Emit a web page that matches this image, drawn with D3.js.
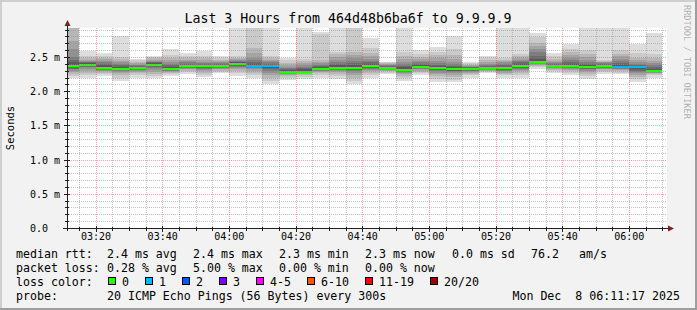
<!DOCTYPE html>
<html>
<head>
    <meta charset="UTF-8">
    <title>smokeping</title>
    <style>
        body { margin: 0; background: #f2f2f2; }
        text { font-family: "DejaVu Sans Mono", monospace; fill: #000; }
    </style>
</head>
<body>
<div id="chart"></div>

<script src="https://cdn.jsdelivr.net/npm/d3@7"></script>
<script>
    // ---- data ----
    var startTime = "03:11:27", endTime = "06:11:27";

    // end of each 5 minute step (first one is cut by the graph start)
    var intervalEnds = ["03:15","03:20","03:25","03:30","03:35","03:40","03:45","03:50","03:55","04:00",
                        "04:05","04:10","04:15","04:20","04:25","04:30","04:35","04:40","04:45","04:50",
                        "04:55","05:00","05:05","05:10","05:15","05:20","05:25","05:30","05:35","05:40",
                        "05:45","05:50","05:55","06:00","06:05","06:10"];

    // median rtt (ms)
    var medians = [2.37,2.39,2.34,2.325,2.34,2.39,2.325,2.37,2.37,2.37,
                   2.40,2.37,2.37,2.285,2.285,2.33,2.34,2.34,2.37,2.34,
                   2.315,2.36,2.34,2.32,2.32,2.34,2.34,2.37,2.43,2.375,
                   2.375,2.36,2.37,2.35,2.35,2.30];

    // lost pings (of 20)
    var lossCounts = [0,0,0,0,0,0,0,0,0,0, 0,1,1,0,0,0,0,0,0,0, 0,0,0,0,0,0,0,0,0,0, 0,0,0,1,1,0];

    // 20 sorted ping times per step (ms)
    var pings = [
        [2.20,2.22,2.25,2.28,2.30,2.32,2.33,2.35,2.36,2.365,2.375,2.39,2.42,2.45,2.50,2.61,2.73,2.93,2.97,3.00],
        [2.19,2.23,2.26,2.30,2.33,2.35,2.36,2.37,2.38,2.385,2.395,2.40,2.41,2.42,2.43,2.44,2.46,2.49,2.52,2.59],
        [2.22,2.25,2.27,2.29,2.30,2.31,2.32,2.33,2.335,2.338,2.345,2.36,2.38,2.40,2.42,2.44,2.47,2.49,2.52,2.56],
        [2.15,2.19,2.23,2.26,2.28,2.30,2.31,2.315,2.32,2.322,2.328,2.34,2.36,2.38,2.40,2.42,2.44,2.47,2.50,2.80],
        [2.20,2.23,2.26,2.28,2.30,2.31,2.32,2.33,2.335,2.338,2.345,2.35,2.36,2.37,2.38,2.39,2.41,2.43,2.45,2.47],
        [2.19,2.22,2.25,2.28,2.31,2.34,2.36,2.37,2.38,2.385,2.395,2.40,2.41,2.42,2.43,2.44,2.46,2.48,2.50,2.52],
        [2.22,2.25,2.27,2.28,2.29,2.30,2.31,2.315,2.32,2.322,2.328,2.34,2.36,2.38,2.40,2.43,2.46,2.49,2.53,2.62],
        [2.25,2.28,2.30,2.32,2.33,2.34,2.35,2.36,2.365,2.368,2.372,2.38,2.39,2.40,2.42,2.44,2.46,2.48,2.51,2.56],
        [2.21,2.24,2.27,2.29,2.31,2.33,2.34,2.35,2.36,2.365,2.375,2.38,2.39,2.40,2.41,2.43,2.45,2.48,2.52,2.59],
        [2.26,2.28,2.30,2.32,2.33,2.34,2.35,2.36,2.365,2.368,2.372,2.38,2.39,2.40,2.41,2.42,2.44,2.46,2.48,2.51],
        [2.22,2.26,2.29,2.32,2.34,2.36,2.37,2.38,2.39,2.395,2.405,2.41,2.42,2.43,2.44,2.45,2.47,2.49,2.52,2.98],
        [2.20,2.24,2.27,2.30,2.32,2.34,2.35,2.36,2.365,2.368,2.372,2.38,2.40,2.43,2.46,2.49,2.56,2.63,2.95,3.00],
        [2.10,2.15,2.20,2.24,2.27,2.30,2.32,2.34,2.355,2.365,2.375,2.38,2.39,2.40,2.42,2.44,2.46,2.49,2.52,2.98],
        [2.17,2.20,2.22,2.24,2.25,2.26,2.27,2.275,2.28,2.283,2.287,2.30,2.31,2.32,2.34,2.36,2.38,2.41,2.45,2.49],
        [2.18,2.21,2.23,2.25,2.26,2.27,2.275,2.28,2.282,2.284,2.288,2.30,2.32,2.34,2.36,2.38,2.41,2.44,2.47,2.98],
        [2.20,2.23,2.26,2.28,2.29,2.30,2.31,2.32,2.325,2.328,2.332,2.34,2.35,2.37,2.39,2.41,2.43,2.46,2.84,2.86],
        [2.18,2.22,2.25,2.28,2.30,2.31,2.32,2.33,2.335,2.338,2.345,2.36,2.38,2.40,2.43,2.46,2.50,2.54,2.58,2.98],
        [2.10,2.15,2.20,2.24,2.27,2.29,2.31,2.32,2.33,2.335,2.345,2.36,2.38,2.41,2.44,2.48,2.53,2.58,2.95,3.00],
        [2.19,2.23,2.26,2.29,2.31,2.33,2.34,2.35,2.36,2.365,2.375,2.38,2.40,2.42,2.44,2.47,2.51,2.56,2.63,2.78],
        [2.25,2.27,2.29,2.30,2.31,2.32,2.325,2.33,2.335,2.338,2.342,2.35,2.36,2.37,2.38,2.39,2.40,2.41,2.42,2.43],
        [2.15,2.19,2.22,2.25,2.27,2.28,2.29,2.30,2.31,2.313,2.317,2.33,2.35,2.37,2.40,2.43,2.47,2.52,2.58,2.98],
        [2.24,2.26,2.28,2.30,2.32,2.33,2.34,2.35,2.355,2.358,2.362,2.37,2.38,2.40,2.42,2.44,2.47,2.50,2.54,2.60],
        [2.14,2.18,2.22,2.25,2.27,2.29,2.31,2.32,2.33,2.337,2.343,2.35,2.37,2.39,2.41,2.44,2.48,2.53,2.58,2.65],
        [2.13,2.17,2.21,2.24,2.26,2.28,2.29,2.30,2.31,2.317,2.323,2.33,2.35,2.37,2.40,2.43,2.47,2.53,2.62,2.81],
        [2.20,2.23,2.25,2.27,2.28,2.29,2.30,2.31,2.315,2.318,2.322,2.33,2.34,2.35,2.36,2.37,2.38,2.39,2.41,2.42],
        [2.26,2.28,2.29,2.30,2.31,2.32,2.33,2.335,2.338,2.339,2.341,2.35,2.36,2.37,2.38,2.40,2.42,2.45,2.48,2.52],
        [2.20,2.23,2.25,2.27,2.29,2.30,2.31,2.32,2.33,2.337,2.343,2.35,2.36,2.38,2.40,2.42,2.44,2.46,2.49,2.98],
        [2.19,2.23,2.26,2.29,2.31,2.33,2.34,2.35,2.36,2.365,2.375,2.38,2.40,2.42,2.44,2.46,2.49,2.52,2.55,2.98],
        [2.32,2.35,2.37,2.39,2.40,2.41,2.415,2.42,2.425,2.428,2.432,2.44,2.47,2.52,2.57,2.62,2.66,2.70,2.79,2.85],
        [2.26,2.29,2.31,2.33,2.34,2.35,2.36,2.365,2.37,2.373,2.377,2.38,2.39,2.40,2.41,2.42,2.44,2.47,2.51,2.56],
        [2.23,2.26,2.29,2.31,2.33,2.34,2.35,2.36,2.37,2.373,2.377,2.38,2.40,2.42,2.45,2.49,2.53,2.57,2.62,2.685],
        [2.18,2.22,2.25,2.28,2.30,2.32,2.33,2.34,2.35,2.357,2.363,2.37,2.38,2.40,2.43,2.46,2.50,2.55,2.60,2.98],
        [2.25,2.28,2.30,2.32,2.33,2.34,2.35,2.36,2.365,2.368,2.372,2.38,2.39,2.40,2.41,2.42,2.43,2.44,2.46,2.98],
        [2.25,2.27,2.29,2.31,2.32,2.33,2.34,2.345,2.348,2.349,2.351,2.36,2.38,2.41,2.44,2.47,2.51,2.55,2.60,2.98],
        [2.14,2.18,2.21,2.24,2.26,2.28,2.30,2.32,2.335,2.345,2.355,2.36,2.37,2.38,2.40,2.42,2.45,2.49,2.56,2.69],
        [2.20,2.23,2.25,2.26,2.27,2.28,2.29,2.295,2.298,2.299,2.301,2.31,2.33,2.35,2.38,2.41,2.44,2.48,2.55,2.855]
    ];

    var yTicks = [0, 0.5, 1.0, 1.5, 2.0, 2.5];
    var yTickLabels = ["0.0", "0.5 m", "1.0 m", "1.5 m", "2.0 m", "2.5 m"];

    var lossLabels = ["0", "1", "2", "3", "4-5", "6-10", "11-19", "20/20"];
    var lossColors = ["#26ff00", "#00b8ff", "#0059ff", "#7e00ff", "#ff00ff", "#ff5500", "#ff0000", "#a10000"];

    var titleText = "Last 3 Hours from 464d48b6ba6f to 9.9.9.9";
    var rttStats = ["2.4 ms avg", "2.4 ms max", "2.3 ms min", "2.3 ms now", "0.0 ms sd", "76.2", "am/s"];
    var lossStats = ["0.28 % avg", "5.00 % max", "0.00 % min", "0.00 % now"];
    var probeText = "20 ICMP Echo Pings (56 Bytes) every 300s";
    var stampText = "Mon Dec  8 06:11:17 2025";

    // ---- drawing ----
    var W = 697, H = 310;
    var pL = 67, pR = 667, pT = 28, pB = 228;
    var parseT = d3.timeParse("%H:%M:%S");
    var parseHM = d3.timeParse("%H:%M");

    var x = d3.scaleTime().domain([parseT(startTime), parseT(endTime)]).range([pL, pR]);
    var y = d3.scaleLinear().domain([0, 2.924]).range([pB, pT]);

    var svg = d3.select("#chart").append("svg")
        .attr("width", W).attr("height", H)
        .style("display", "block");

    // background + 3d frame
    svg.append("rect").attr("width", W).attr("height", H).attr("fill", "#f2f2f2");
    svg.append("rect").attr("x", 0).attr("y", 0).attr("width", W).attr("height", 2).attr("fill", "#cfcfcf");
    svg.append("rect").attr("x", 0).attr("y", 0).attr("width", 2).attr("height", H).attr("fill", "#cfcfcf");
    svg.append("rect").attr("x", 0).attr("y", H - 2).attr("width", W).attr("height", 2).attr("fill", "#9e9e9e");
    svg.append("rect").attr("x", W - 2).attr("y", 0).attr("width", 2).attr("height", H).attr("fill", "#9e9e9e");

    // canvas
    svg.append("rect").attr("x", pL).attr("y", pT).attr("width", pR - pL).attr("height", pB - pT)
        .attr("fill", "#fff");

    svg.append("clipPath").attr("id", "plotclip").append("rect")
        .attr("x", pL).attr("y", pT).attr("width", pR - pL).attr("height", pB - pT);

    var plot = svg.append("g").attr("clip-path", "url(#plotclip)").attr("shape-rendering", "crispEdges");

    var steps = intervalEnds.map(function(e, k) {
        var t1 = parseHM(e);
        var t0 = d3.timeMinute.offset(t1, -5);
        return {
            x0: Math.max(pL, Math.round(x(t0))),
            x1: Math.round(x(t1)),
            pings: pings[k],
            median: medians[k],
            loss: lossCounts[k]
        };
    });

    // smoke: layer i spans ping[i] .. ping[19-i], darker toward the middle
    var half = 10;
    steps.forEach(function(s) {
        for (var i = 0; i < half; i++) {
            var g = Math.floor(190 / half * (half - (i + 1))) + 50;
            var lo = Math.round(y(s.pings[i])), hi = Math.round(y(s.pings[19 - i]));
            plot.append("rect")
                .attr("x", s.x0).attr("width", s.x1 - s.x0)
                .attr("y", hi).attr("height", Math.max(1, lo - hi))
                .attr("fill", d3.rgb(g, g, g));
        }
    });

    function lossColor(n) {
        var limits = [0, 1, 2, 3, 5, 10, 19, 20];
        for (var i = 0; i < limits.length; i++) if (n <= limits[i]) return lossColors[i];
        return lossColors[lossColors.length - 1];
    }

    // median
    steps.forEach(function(s) {
        var ym = Math.round(y(s.median));
        plot.append("rect")
            .attr("x", s.x0).attr("width", s.x1 - s.x0)
            .attr("y", ym - 1).attr("height", 2)
            .attr("fill", lossColor(s.loss));
    });

    // grid (drawn on top, translucent)
    function isMajor(v) { return Math.abs(v * 2 - Math.round(v * 2)) < 1e-6; }
    var grid = svg.append("g");
    var minorY = y.ticks(30).filter(function(v) { return v > 0 && !isMajor(v); });
    grid.selectAll(".hmin").data(minorY).enter().append("line")
        .attr("x1", pL).attr("x2", pR)
        .attr("y1", function(d) { return Math.round(y(d)) + 0.5; })
        .attr("y2", function(d) { return Math.round(y(d)) + 0.5; })
        .attr("stroke", "rgba(143,143,143,0.55)").attr("stroke-dasharray", "1,1");
    var minorX = x.ticks(d3.timeMinute.every(5)).filter(function(d) { return d.getMinutes() % 20 !== 0; });
    grid.selectAll(".vmin").data(minorX).enter().append("line")
        .attr("y1", pT).attr("y2", pB)
        .attr("x1", function(d) { return Math.round(x(d)) + 0.5; })
        .attr("x2", function(d) { return Math.round(x(d)) + 0.5; })
        .attr("stroke", "rgba(143,143,143,0.55)").attr("stroke-dasharray", "1,1");
    grid.selectAll(".hmaj").data(yTicks.filter(function(v) { return v > 0; })).enter().append("line")
        .attr("x1", pL).attr("x2", pR)
        .attr("y1", function(d) { return Math.round(y(d)) + 0.5; })
        .attr("y2", function(d) { return Math.round(y(d)) + 0.5; })
        .attr("stroke", "rgba(222,80,80,0.5)").attr("stroke-dasharray", "1,1");
    var majorX = x.ticks(d3.timeMinute.every(20));
    grid.selectAll(".vmaj").data(majorX).enter().append("line")
        .attr("y1", pT).attr("y2", pB)
        .attr("x1", function(d) { return Math.round(x(d)) + 0.5; })
        .attr("x2", function(d) { return Math.round(x(d)) + 0.5; })
        .attr("stroke", "rgba(222,80,80,0.5)").attr("stroke-dasharray", "1,1");

    // axes
    var axisCol = "#1f1f1f", arrowCol = "#801f1f";
    var ax = svg.append("g").attr("shape-rendering", "crispEdges");
    ax.append("line").attr("x1", pL - 4).attr("x2", pR + 2).attr("y1", pB + 0.5).attr("y2", pB + 0.5)
        .attr("stroke", axisCol);
    ax.append("line").attr("x1", pL + 0.5).attr("x2", pL + 0.5).attr("y1", pB + 3).attr("y2", pT - 3)
        .attr("stroke", axisCol);
    svg.append("path").attr("d", "M" + (pR + 7) + "," + (pB + 0.5) + "L" + (pR + 1) + "," + (pB - 2.5) +
        "L" + (pR + 1) + "," + (pB + 3.5) + "Z").attr("fill", arrowCol);
    svg.append("path").attr("d", "M" + (pL + 0.5) + "," + (pT - 8) + "L" + (pL - 2.5) + "," + (pT - 2) +
        "L" + (pL + 3.5) + "," + (pT - 2) + "Z").attr("fill", arrowCol);

    // ticks on the axes
    ax.selectAll(".xt").data(x.ticks(d3.timeMinute.every(5))).enter().append("line")
        .attr("x1", function(d) { return Math.round(x(d)) + 0.5; })
        .attr("x2", function(d) { return Math.round(x(d)) + 0.5; })
        .attr("y1", function(d) { return pB + (d.getMinutes() % 20 === 0 ? -2 : -1); })
        .attr("y2", function(d) { return pB + (d.getMinutes() % 20 === 0 ? 4 : 3); })
        .attr("stroke", axisCol);
    ax.selectAll(".yt").data(y.ticks(30)).enter().append("line")
        .attr("y1", function(d) { return Math.round(y(d)) + 0.5; })
        .attr("y2", function(d) { return Math.round(y(d)) + 0.5; })
        .attr("x1", function(d) { return pL - (isMajor(d) ? 3 : 2); })
        .attr("x2", function(d) { return pL + (isMajor(d) ? 3 : 2); })
        .attr("stroke", axisCol);

    // x labels through the d3 axis
    var xAxis = d3.axisBottom(x).ticks(d3.timeMinute.every(20)).tickFormat(d3.timeFormat("%H:%M"))
        .tickSize(0).tickPadding(0);
    var xg = svg.append("g").attr("transform", "translate(0," + pB + ")").call(xAxis);
    xg.select(".domain").remove();
    xg.selectAll("text").attr("y", 12).attr("dy", null).style("font-family", "DejaVu Sans Mono")
        .style("font-size", "10px").attr("fill", "#000");

    svg.selectAll(".ylab").data(yTicks).enter().append("text")
        .attr("x", 30).attr("y", function(d) { return Math.round(y(d)) + 4; })
        .style("font-size", "10px")
        .text(function(d, i) { return yTickLabels[i]; });

    svg.append("text").attr("transform", "translate(14,128) rotate(-90)")
        .attr("text-anchor", "middle").style("font-size", "10.5px").text("Seconds");

    svg.append("text").attr("x", 348).attr("y", 23).attr("text-anchor", "middle")
        .style("font-size", "13.25px").text(titleText);

    svg.append("text").attr("transform", "translate(684,5) rotate(90)")
        .style("font-size", "8.6px").style("fill", "rgba(0,0,0,0.3)").text("RRDTOOL / TOBI OETIKER");

    // legend
    var leg = svg.append("g").style("font-size", "11.6px").attr("xml:space", "preserve");
    var cols = [107, 193, 279, 365, 452, 531, 579];
    leg.append("text").attr("x", 16).attr("y", 258).text("median rtt:");
    rttStats.forEach(function(s, i) { leg.append("text").attr("x", cols[i]).attr("y", 258).text(s); });
    leg.append("text").attr("x", 16).attr("y", 272).text("packet loss:");
    lossStats.forEach(function(s, i) { leg.append("text").attr("x", cols[i]).attr("y", 272).text(s); });
    leg.append("text").attr("x", 16).attr("y", 286).text("loss color:");
    var lx = 108;
    lossLabels.forEach(function(lab, i) {
        leg.append("rect").attr("x", lx + 0.5).attr("y", 277.5).attr("width", 7).attr("height", 7)
            .attr("fill", lossColors[i]).attr("stroke", "#000").attr("shape-rendering", "crispEdges");
        var t = leg.append("text").attr("x", lx + 14).attr("y", 286).text(lab);
        lx = Math.round(lx + 14 + t.node().getComputedTextLength() + 16);
    });
    leg.append("text").attr("x", 16).attr("y", 300).text("probe:");
    leg.append("text").attr("x", 107).attr("y", 300).text(probeText);
    leg.append("text").attr("x", 680).attr("y", 300).attr("text-anchor", "end")
        .style("white-space", "pre").text(stampText);
</script>
</body>
</html>
